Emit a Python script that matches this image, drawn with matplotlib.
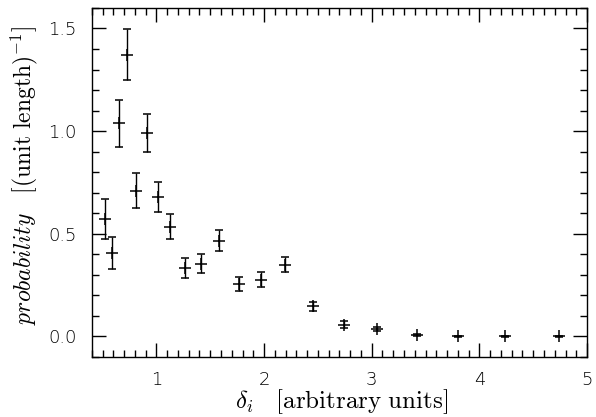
import numpy as np
import matplotlib.pyplot as plt
from matplotlib.ticker import MultipleLocator

plt.rcParams['mathtext.fontset'] = 'cm'

# data
delta = [0.52, 0.585, 0.65, 0.73, 0.81, 0.91, 1.015, 1.13, 1.27, 1.41, 1.585,
         1.77, 1.97, 2.195, 2.455, 2.74, 3.045, 3.42, 3.80, 4.24, 4.74]
prob = [0.571, 0.406, 1.038, 1.373, 0.710, 0.992, 0.681, 0.535, 0.333, 0.354, 0.467,
        0.256, 0.276, 0.349, 0.146, 0.058, 0.036, 0.008, 0.001, 0.001, 0.001]
err = [0.098, 0.077, 0.113, 0.122, 0.085, 0.093, 0.073, 0.062, 0.048, 0.046, 0.050,
       0.035, 0.036, 0.036, 0.024, 0.017, 0.011, 0.005, 0.002, 0.002, 0.002]

fig = plt.figure(figsize=(5.96, 4.17), dpi=100)
ax = fig.add_axes([0.154, 0.144, 0.831, 0.837])

ax.errorbar(delta, prob, yerr=err, fmt='+', color='black', ms=9, mew=1.1,
            elinewidth=1.0, capsize=3, capthick=1.0)

ax.set_xlim(0.4, 5.0)
ax.set_ylim(-0.1, 1.6)
ax.xaxis.set_major_locator(MultipleLocator(1))
ax.xaxis.set_minor_locator(MultipleLocator(0.1))
ax.yaxis.set_major_locator(MultipleLocator(0.5))
ax.yaxis.set_minor_locator(MultipleLocator(0.1))
ax.yaxis.set_major_formatter(plt.FormatStrFormatter('%.1f'))
ax.tick_params(which='both', direction='in', top=True, right=True, width=1)
ax.tick_params(which='major', length=10, labelsize=13)
ax.tick_params(axis='x', which='major', pad=10)
ax.tick_params(axis='y', which='major', pad=11)
ax.tick_params(which='minor', length=5)
for lab in ax.get_xticklabels() + ax.get_yticklabels():
    lab.set_fontweight('light')
for s in ax.spines.values():
    s.set_linewidth(1)

ax.set_xlabel(r'$\delta_i\ \ \ [\mathrm{arbitrary\ units}]$', fontsize=18)
ax.xaxis.set_label_coords(0.504, -0.147, transform=ax.transAxes)
ax.xaxis.label.set_va('baseline')
ax.set_ylabel(r'$probability\ \ \ [\mathrm{(unit\ length)}^{-1}]$', fontsize=17)
ax.yaxis.set_label_coords(-0.105, 0.521, transform=ax.transAxes)

plt.savefig('out.png', dpi=100)
